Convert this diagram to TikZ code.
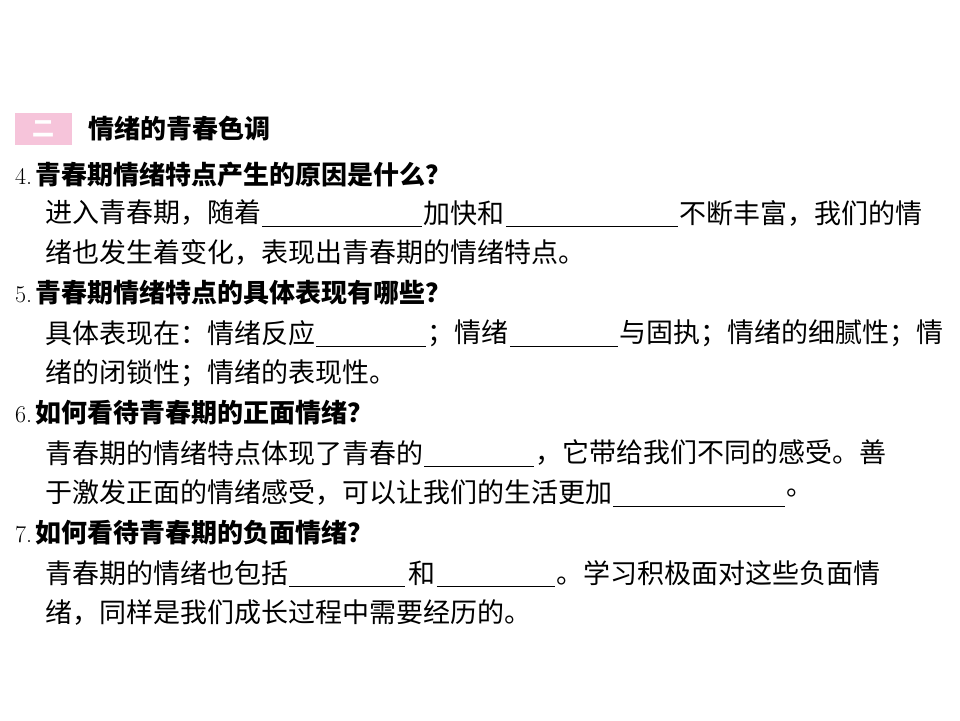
\documentclass[tikz,border=0pt]{standalone}
\usepackage{fontspec}
\newfontfamily\cjk{Noto Sans CJK SC}
\definecolor{pinkbox}{RGB}{246,196,218}
\tikzset{tx/.style={anchor=west,inner sep=0pt,font=\cjk\fontsize{27}{27}\selectfont},
 tb/.style={tx,font=\cjk\bfseries\fontsize{26}{26}\selectfont},
 blank/.style={line width=0.8pt}}
\newcommand{\bl}[3]{\draw[blank] ([shift={(1,13)}]#1.east) -- ++(#2,0) coordinate (#3);}
\newcommand{\qn}[1]{{\rmfamily\mdseries\fontsize{24}{24}\selectfont #1.\kern3pt}}
\begin{document}
\begin{tikzpicture}[x=1pt,y=-1pt]
\useasboundingbox (0,0) rectangle (960,720);
\node[fill=pinkbox,minimum width=57pt,minimum height=32pt,inner sep=0pt,text=white,font=\cjk\bfseries\fontsize{22}{22}\selectfont] (badge) at (43,129) {二};
\node[tb] (h) at (88,129) {情绪的青春色调};
\node[tb] (q4) at (15,175) {\qn{4}青春期情绪特点产生的原因是什么？};
\node[tx] (a1) at (45,213) {进入青春期，随着};
\bl{a1}{160}{e1}
\node[tx] (a2) at ([shift={(1,-13)}]e1) {加快和};
\bl{a2}{172}{e2}
\node[tx] (a3) at ([shift={(1,-13)}]e2) {不断丰富，我们的情};
\node[tx] (a4) at (45,252) {绪也发生着变化，表现出青春期的情绪特点。};
\node[tb] (q5) at (15,293) {\qn{5}青春期情绪特点的具体表现有哪些？};
\node[tx] (b1) at (45,333) {具体表现在：情绪反应};
\bl{b1}{110}{f1}
\node[tx] (b2) at ([shift={(1,-13)}]f1) {；情绪};
\bl{b2}{108}{f2}
\node[tx] (b3) at ([shift={(1,-13)}]f2) {与固执；情绪的细腻性；情};
\node[tx] (b4) at (45,373) {绪的闭锁性；情绪的表现性。};
\node[tb] (q6) at (15,413) {\qn{6}如何看待青春期的正面情绪？};
\node[tx] (c1) at (45,453) {青春期的情绪特点体现了青春的};
\bl{c1}{110}{g1}
\node[tx] (c2) at ([shift={(1,-13)}]g1) {，它带给我们不同的感受。善};
\node[tx] (c3) at (45,493) {于激发正面的情绪感受，可以让我们的生活更加};
\bl{c3}{172}{g2}
\node[tx] (c4) at ([shift={(1,-13)}]g2) {。};
\node[tb] (q7) at (15,533) {\qn{7}如何看待青春期的负面情绪？};
\node[tx] (d1) at (45,573) {青春期的情绪也包括};
\bl{d1}{116}{h1}
\node[tx] (d2) at ([shift={(3,-13)}]h1) {和};
\bl{d2}{118}{h2}
\node[tx] (d3) at ([shift={(1,-13)}]h2) {。学习积极面对这些负面情};
\node[tx] (d4) at (45,613) {绪，同样是我们成长过程中需要经历的。};
\end{tikzpicture}
\end{document}
